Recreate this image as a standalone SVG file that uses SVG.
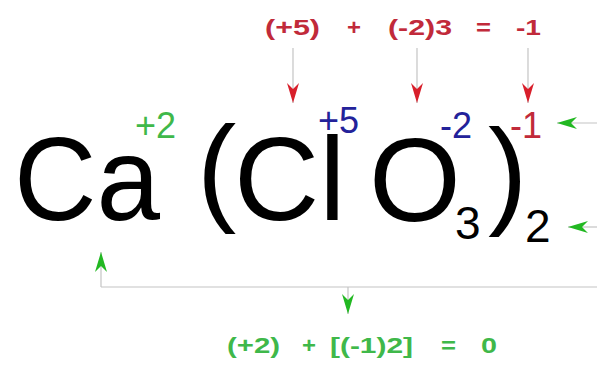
<svg xmlns="http://www.w3.org/2000/svg" width="597" height="366" viewBox="0 0 597 366">
<style>
.big{font-family:"Liberation Sans",Arial,sans-serif;fill:#000}
.sup{font-family:"Liberation Sans",Arial,sans-serif;font-size:36px}
.eq{font-family:"Liberation Sans",Arial,sans-serif;font-size:22px;font-weight:bold}
.red{fill:#c12a3a}
.grn{fill:#3fb84a}
.blu{fill:#23229a}
.ln{fill:none;stroke:#c4c4c4;stroke-width:1.2}
</style>
<defs>
<marker id="ahRed" markerUnits="userSpaceOnUse" markerWidth="22" markerHeight="14" viewBox="-21 -7 22 14" refX="0" refY="0" orient="auto">
<path d="M0,0 L-20,-6 L-14,0 L-20,6 Z" fill="#d81f2b"/>
</marker>
<marker id="ahGrn" markerUnits="userSpaceOnUse" markerWidth="22" markerHeight="14" viewBox="-21 -7 22 14" refX="0" refY="0" orient="auto">
<path d="M0,0 L-20,-6 L-14,0 L-20,6 Z" fill="#22b822"/>
</marker>
</defs>
<rect width="597" height="366" fill="#fff"/>
<g id="connectors">
<line class="ln" x1="293" y1="48" x2="293" y2="103" marker-end="url(#ahRed)"/>
<line class="ln" x1="417" y1="48" x2="417" y2="103" marker-end="url(#ahRed)"/>
<line class="ln" x1="528" y1="48" x2="528" y2="103" marker-end="url(#ahRed)"/>
<line class="ln" x1="597" y1="123" x2="557" y2="123" marker-end="url(#ahGrn)"/>
<line class="ln" x1="597" y1="227" x2="568" y2="227" marker-end="url(#ahGrn)"/>
<line class="ln" x1="101" y1="287" x2="597" y2="287"/>
<line class="ln" x1="101" y1="287" x2="101" y2="252" marker-end="url(#ahGrn)"/>
<line class="ln" x1="348" y1="287" x2="348" y2="314" marker-end="url(#ahGrn)"/>
</g>
<g id="top-equation" class="eq red">
<text x="265" y="35" textLength="55" lengthAdjust="spacingAndGlyphs">(+5)</text>
<text x="347" y="35" textLength="14" lengthAdjust="spacingAndGlyphs">+</text>
<text x="388" y="35" textLength="64" lengthAdjust="spacingAndGlyphs">(-2)3</text>
<text x="476" y="35" textLength="15" lengthAdjust="spacingAndGlyphs">=</text>
<text x="516" y="35" textLength="25" lengthAdjust="spacingAndGlyphs">-1</text>
</g>
<g id="formula">
<text class="big" x="14" y="220" font-size="118" textLength="146" lengthAdjust="spacingAndGlyphs">Ca</text>
<text class="big" x="197" y="209" font-size="118">(</text>
<text class="big" x="234" y="220" font-size="118">Cl</text>
<text class="big" x="369" y="221" font-size="118">O</text>
<text class="big" x="455" y="239" font-size="46">3</text>
<text class="big" x="488" y="212" font-size="118">)</text>
<text class="big" x="525" y="242" font-size="46">2</text>
</g>
<g id="charges">
<text class="sup grn" x="135" y="138">+2</text>
<text class="sup blu" x="318" y="133">+5</text>
<text class="sup blu" x="440" y="138">-2</text>
<text class="sup red" x="510" y="138">-1</text>
</g>
<g id="bottom-equation" class="eq grn">
<text x="227" y="353" textLength="53" lengthAdjust="spacingAndGlyphs">(+2)</text>
<text x="302" y="353" textLength="14" lengthAdjust="spacingAndGlyphs">+</text>
<text x="330" y="353" textLength="83" lengthAdjust="spacingAndGlyphs">[(-1)2]</text>
<text x="441" y="353" textLength="15" lengthAdjust="spacingAndGlyphs">=</text>
<text x="481" y="353" textLength="16" lengthAdjust="spacingAndGlyphs">0</text>
</g>
</svg>
